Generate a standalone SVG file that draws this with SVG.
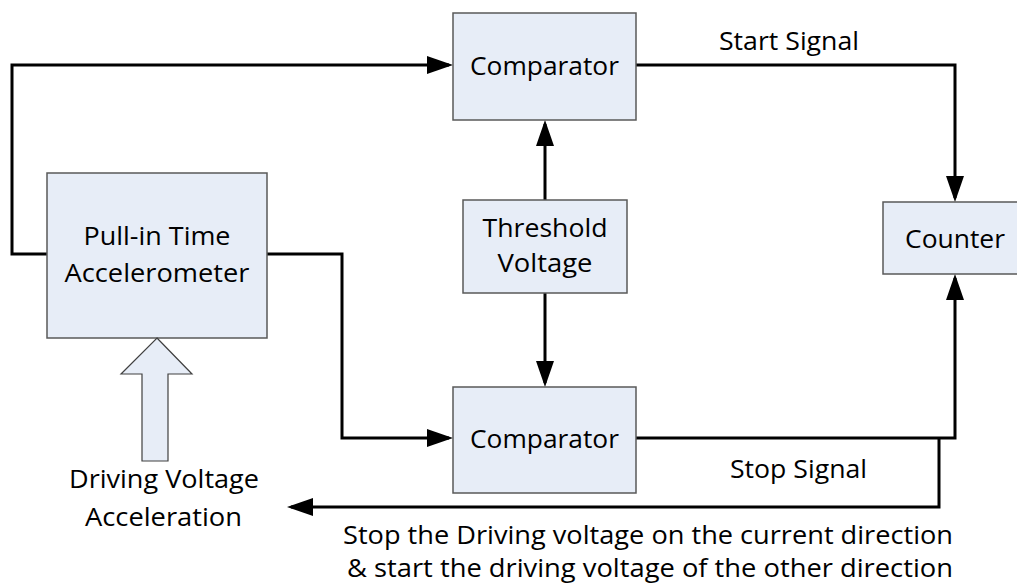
<svg xmlns="http://www.w3.org/2000/svg" width="1017" height="587" viewBox="0 0 1017 587">
<style>
  .box{fill:#e7edf7;stroke:#595959;stroke-width:1.5}
  .lbl{font-family:"Open Sans","Liberation Sans",sans-serif;font-size:26px;fill:#000;text-anchor:middle}
  .wire{fill:none;stroke:#000;stroke-width:3}
</style>
<defs>
  <marker id="ah" viewBox="0 0 26 18" refX="22" refY="9" markerWidth="26" markerHeight="18" orient="auto" markerUnits="userSpaceOnUse">
    <path d="M0,0 L26,9 L0,18 Z" fill="#000"/>
  </marker>
</defs>
<rect width="1017" height="587" fill="#fff"/>

<g id="connectors">
  <path class="wire" d="M47,254 H12 V65 H449" marker-end="url(#ah)"/>
  <path class="wire" d="M267,254 H342 V438 H449" marker-end="url(#ah)"/>
  <path class="wire" d="M545,200 V124" marker-end="url(#ah)"/>
  <path class="wire" d="M545,293 V383" marker-end="url(#ah)"/>
  <path class="wire" d="M636,65 H955 V198" marker-end="url(#ah)"/>
  <path class="wire" d="M636,438 H955 V278" marker-end="url(#ah)"/>
  <path class="wire" d="M939,438 V507 H291" marker-end="url(#ah)"/>
</g>

<g id="accelerometer">
  <rect class="box" x="47" y="173" width="220" height="165"/>
  <text class="lbl" x="157" y="245" textLength="147" lengthAdjust="spacingAndGlyphs">Pull-in Time</text>
  <text class="lbl" x="157" y="282" textLength="185" lengthAdjust="spacingAndGlyphs">Accelerometer</text>
</g>

<g id="comparator-top">
  <rect class="box" x="453" y="13" width="183" height="107"/>
  <text class="lbl" x="544.5" y="75" textLength="149" lengthAdjust="spacingAndGlyphs">Comparator</text>
</g>

<g id="threshold">
  <rect class="box" x="463" y="200" width="164" height="93"/>
  <text class="lbl" x="545" y="237" textLength="125" lengthAdjust="spacingAndGlyphs">Threshold</text>
  <text class="lbl" x="545" y="272" textLength="95" lengthAdjust="spacingAndGlyphs">Voltage</text>
</g>

<g id="comparator-bottom">
  <rect class="box" x="453" y="387" width="183" height="106"/>
  <text class="lbl" x="544.5" y="448" textLength="149" lengthAdjust="spacingAndGlyphs">Comparator</text>
</g>

<g id="counter">
  <rect class="box" x="883" y="202" width="144" height="72"/>
  <text class="lbl" x="955" y="248" textLength="100" lengthAdjust="spacingAndGlyphs">Counter</text>
</g>

<g id="driving-input">
  <polygon points="157,338 192,374 168,374 168,461 142,461 142,374 121,374" fill="#e7edf7" stroke="#404040" stroke-width="1.2"/>
  <text class="lbl" x="164" y="488" textLength="190" lengthAdjust="spacingAndGlyphs">Driving Voltage</text>
  <text class="lbl" x="163.5" y="526" textLength="157" lengthAdjust="spacingAndGlyphs">Acceleration</text>
</g>

<g id="labels">
  <text class="lbl" x="789" y="50" textLength="140" lengthAdjust="spacingAndGlyphs">Start Signal</text>
  <text class="lbl" x="798.5" y="478" textLength="137" lengthAdjust="spacingAndGlyphs">Stop Signal</text>
  <text class="lbl" x="648" y="544" textLength="610" lengthAdjust="spacingAndGlyphs">Stop the Driving voltage on the current direction</text>
  <text class="lbl" x="650" y="577" textLength="606" lengthAdjust="spacingAndGlyphs">&amp; start the driving voltage of the other direction</text>
</g>
</svg>
